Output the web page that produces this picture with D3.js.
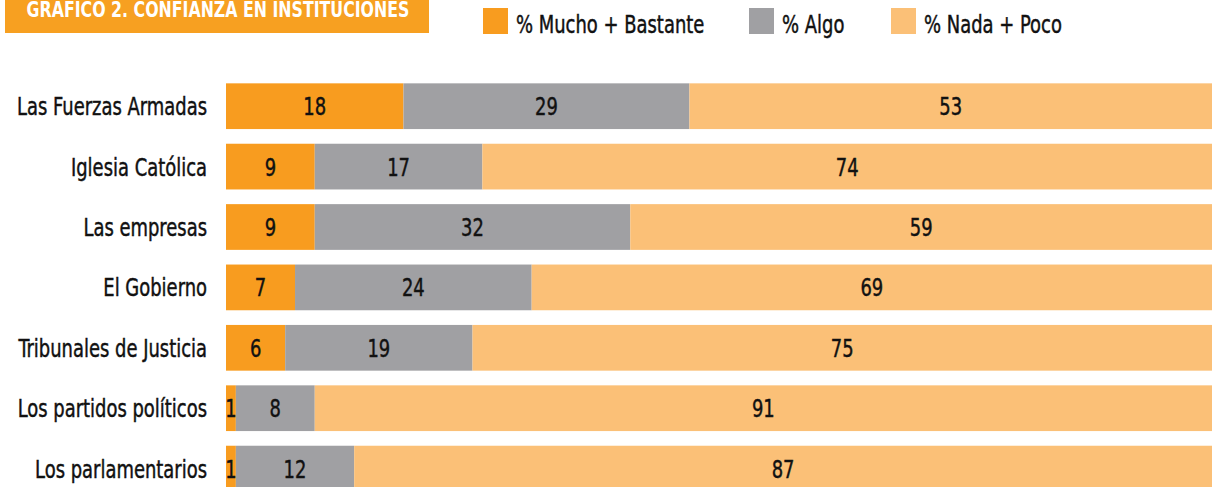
<!DOCTYPE html>
<html>
<head>
<meta charset="utf-8">
<script src="https://cdn.jsdelivr.net/npm/d3@7"></script>
<style>
  body { margin: 0; background: #fff; overflow: hidden; }
  text { font-family: "DejaVu Sans Condensed", "Liberation Sans Narrow", "Roboto", sans-serif; }
  .dark { fill: #111; stroke: #111; stroke-width: 0.45px; }
</style>
</head>
<body>
<div class="chart"></div>
<script>
var svgWidth = 1212;
var svgHeight = 487;

// data
var categories = [
  "Las Fuerzas Armadas",
  "Iglesia Católica",
  "Las empresas",
  "El Gobierno",
  "Tribunales de Justicia",
  "Los partidos políticos",
  "Los parlamentarios"
];
var mucho = [18, 9, 9, 7, 6, 1, 1];
var algo = [29, 17, 32, 24, 19, 8, 12];
var nada = [53, 74, 59, 69, 75, 91, 87];
var seriesNames = ["% Mucho + Bastante", "% Algo", "% Nada + Poco"];
var colors = ["#f89c1f", "#a0a0a3", "#fbc077"];
var title = "GRAFICO 2. CONFIANZA EN INSTITUCIONES";

var svg = d3.select(".chart")
  .append("svg")
  .attr("width", svgWidth)
  .attr("height", svgHeight);

// squeeze a text horizontally (the original uses a condensed face)
function squeeze(sel, x, y, f) {
  sel.attr("x", 0).attr("y", 0)
    .attr("transform", "translate(" + x + "," + y + ") scale(" + f + ",1)");
}

// work out the squeeze factor from the first label
var probe = svg.append("text").attr("font-size", 25).text(categories[0]);
var k = 190 / probe.node().getComputedTextLength();
probe.remove();

// title box
svg.append("rect")
  .attr("x", 5).attr("y", 0)
  .attr("width", 424).attr("height", 33)
  .attr("fill", "#f7a021");
var titleText = svg.append("text")
  .attr("text-anchor", "middle")
  .attr("font-size", 22)
  .attr("font-weight", "bold")
  .attr("fill", "#fff")
  .text(title);
var kt = 383 / titleText.node().getComputedTextLength();
squeeze(titleText, 218, 17, kt);

// legend
var legendX = [483, 749, 891];
seriesNames.forEach(function(name, i) {
  svg.append("rect")
    .attr("x", legendX[i]).attr("y", 8)
    .attr("width", 25).attr("height", 26)
    .attr("fill", colors[i]);
  svg.append("text")
    .attr("class", "dark")
    .attr("font-size", 25)
    .text(name)
    .call(squeeze, legendX[i] + 33, 33, k);
});

// table for the stack
var table = categories.map(function(c, i) {
  return { cat: c, mucho: mucho[i], algo: algo[i], nada: nada[i] };
});
var stack = d3.stack().keys(["mucho", "algo", "nada"])(table);

var xScale = d3.scaleLinear().domain([0, 100]).range([226, 1212]);
var yScale = d3.scaleBand()
  .domain(categories)
  .range([76, 76 + 7 * 60.4])
  .paddingInner(0.243)
  .paddingOuter(0.1215);

var layers = svg.selectAll("g.layer")
  .data(stack)
  .enter()
  .append("g")
  .attr("class", "layer")
  .attr("fill", (d, i) => colors[i]);

layers.selectAll("rect")
  .data(d => d)
  .enter()
  .append("rect")
  .attr("x", d => xScale(d[0]))
  .attr("y", d => yScale(d.data.cat))
  .attr("width", d => xScale(d[1]) - xScale(d[0]))
  .attr("height", yScale.bandwidth());

layers.selectAll("text")
  .data(d => d.map(p => ({ p: p, key: d.key })))
  .enter()
  .append("text")
  .attr("class", "dark")
  .attr("text-anchor", "middle")
  .attr("font-size", 25)
  .text(d => d.p.data[d.key])
  .each(function(d) {
    squeeze(d3.select(this),
      (xScale(d.p[0]) + xScale(d.p[1])) / 2,
      yScale(d.p.data.cat) + yScale.bandwidth() / 2 + 9, k);
  });

// category labels
var leftAxis = d3.axisLeft(yScale).tickSize(0).tickPadding(0);
var axisG = svg.append("g")
  .attr("transform", "translate(207,0)")
  .call(leftAxis);
axisG.select(".domain").remove();
axisG.selectAll("text")
  .attr("class", "dark")
  .attr("font-size", 25)
  .attr("dy", null)
  .style("font-family", "'DejaVu Sans Condensed', 'Liberation Sans Narrow', sans-serif")
  .each(function() {
    squeeze(d3.select(this), 0, 9, k);
  });
</script>
</body>
</html>
